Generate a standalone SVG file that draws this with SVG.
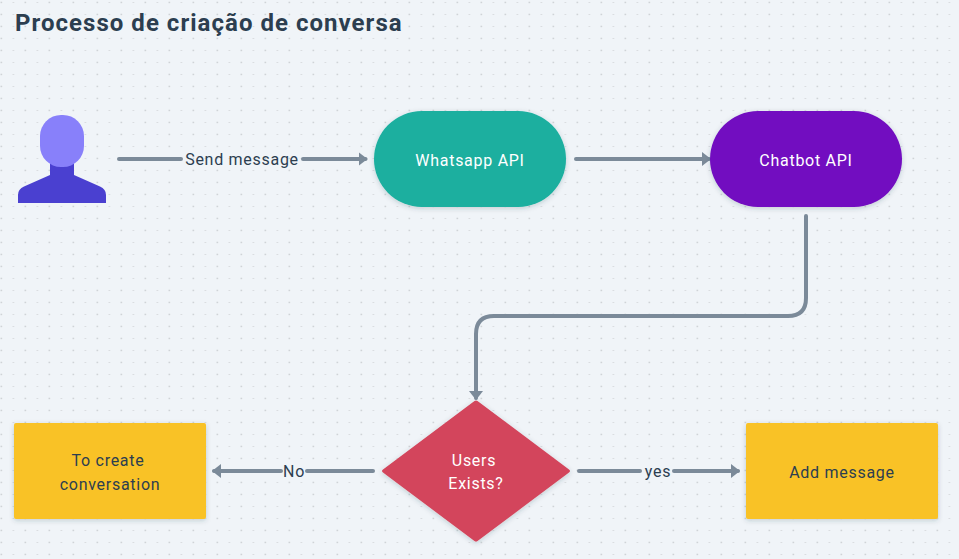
<svg xmlns="http://www.w3.org/2000/svg" width="959" height="559" viewBox="0 0 959 559">
<style>
text{font-family:Roboto,"Liberation Sans",sans-serif;font-size:16px;text-anchor:middle;letter-spacing:.72px}
.d{fill:#2c3e50}.w{fill:#fff}
.c{fill:none;stroke:#7b8a99;stroke-width:4;stroke-linecap:round;stroke-linejoin:round}
.s{filter:url(#sh)}
</style>
<defs>
<pattern id="g" width="24" height="12" patternUnits="userSpaceOnUse">
<rect x="0.500" y="1.700" width="1.700" height="1.500" fill="#cfd3d7"/><rect x="12.500" y="2" width="1.800" height="1" fill="#dadde0"/>
</pattern>
<filter id="sh" x="-20%" y="-20%" width="140%" height="140%"><feDropShadow dx="0" dy="1.500" stdDeviation="2.500" flood-color="#2c3e50" flood-opacity=".22"/></filter>
<marker id="a" markerUnits="userSpaceOnUse" markerWidth="12" markerHeight="16" refX="7" refY="8" orient="auto"><path d="M0 1L9 8L0 15Z" fill="#7b8a99"/></marker>
</defs>
<rect width="959" height="559" fill="#f0f4f8"/>
<rect width="959" height="559" fill="url(#g)"/>
<text x="15" y="31" style="font-size:24px;font-weight:700;text-anchor:start;letter-spacing:1.03px" class="d">Processo de criação de conversa</text>
<g id="connectors">
<path class="c" d="M119 159H181"/>
<path class="c" d="M303 159H365.500" marker-end="url(#a)"/>
<path class="c" d="M576 159H709" marker-end="url(#a)"/>
<path class="c" d="M806 216V298Q806 316 788 316H494Q476 316 476 334V398" marker-end="url(#a)"/>
<path class="c" d="M373 471H307"/>
<path class="c" d="M281 471H214" marker-end="url(#a)"/>
<path class="c" d="M579 471H640"/>
<path class="c" d="M674 471H738" marker-end="url(#a)"/>
<text class="d" x="294" y="477">No</text>
<text class="d" x="658" y="477">yes</text>
<text class="d" x="242" y="165">Send message</text>
</g>
<g id="user">
<path d="M18 203V195Q18 189 24 186.500L50 175V160H74V175L100 186.500Q106 189 106 195V203Z" fill="#4a40d0"/>
<rect x="40" y="115" width="44" height="52" rx="21" fill="#8880fa"/>
</g>
<g id="whatsapp"><rect class="s" x="374" y="111" width="192" height="96" rx="48" fill="#1aaf9f"/><text class="w" x="470" y="166">Whatsapp API</text></g>
<g id="chatbot"><rect class="s" x="710" y="111" width="192" height="96" rx="48" fill="#7209c0"/><text class="w" x="806" y="166">Chatbot API</text></g>
<g id="decision"><path class="s" d="M474.500 401Q476 399.800 477.500 401L569 469.500Q571 471 569 472.500L477.500 541Q476 542.200 474.500 541L383 472.500Q381 471 383 469.500Z" fill="#d3455b"/><text class="w" x="474" y="466">Users</text><text class="w" x="476" y="489">Exists?</text></g>
<g id="create"><rect class="s" x="14" y="423" width="192" height="96" rx="2" fill="#f9c225"/><text class="d" x="108" y="466">To create</text><text class="d" x="110" y="490">conversation</text></g>
<g id="add"><rect class="s" x="746" y="423" width="192" height="96" rx="2" fill="#f9c225"/><text class="d" x="842" y="478">Add message</text></g>
</svg>
